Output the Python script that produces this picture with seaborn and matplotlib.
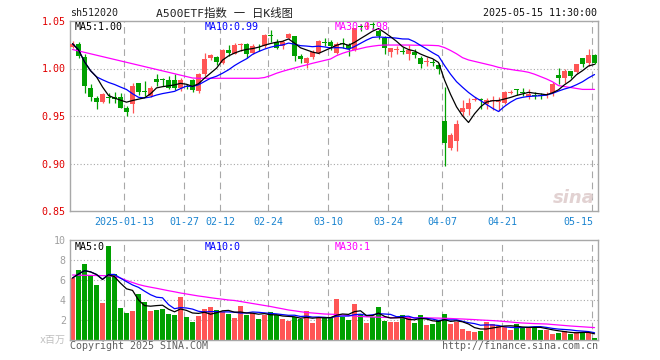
import numpy as np
import pandas as pd
import matplotlib
matplotlib.use("Agg")
import matplotlib.pyplot as plt
import seaborn as sns

# ---------------- data ----------------
opens = [1.0230, 1.0254, 1.0121, 0.9798, 0.9693, 0.9651, 0.9703, 0.9700, 0.9700, 0.9580,
         0.9630, 0.9844, 0.9758, 0.9710, 0.9893, 0.9886, 0.9880, 0.9880, 0.9790, 0.9815,
         0.9880, 0.9763, 0.9939, 1.0107, 1.0121, 1.0061, 1.0195, 1.0156, 1.0251, 1.0261,
         1.0167, 1.0237, 1.0237, 1.0346, 1.0282, 1.0237, 1.0325, 1.0342, 1.0132, 1.0061,
         1.0118, 1.0167, 1.0279, 1.0282, 1.0167, 1.0265, 1.0247, 1.0191, 1.0441, 1.0440,
         1.0462, 1.0395, 1.0318, 1.0177, 1.0198, 1.0177, 1.0149, 1.0177, 1.0114, 1.0069,
         1.0065, 1.0037, 0.9447, 0.9160, 0.9237, 0.9546, 0.9570, 0.9668, 0.9672, 0.9623,
         0.9655, 0.9648, 0.9640, 0.9742, 0.9788, 0.9742, 0.9700, 0.9714, 0.9710, 0.9725,
         0.9746, 0.9932, 0.9903, 0.9974, 0.9967, 1.0107, 1.0061, 1.0142]
highs = [1.0290, 1.0282, 1.0149, 0.9840, 0.9710, 0.9746, 0.9746, 0.9750, 0.9746, 0.9605,
         0.9850, 0.9850, 0.9868, 0.9816, 0.9946, 0.9904, 0.9920, 0.9940, 0.9900, 0.9840,
         0.9890, 0.9956, 1.0167, 1.0156, 1.0132, 1.0202, 1.0247, 1.0272, 1.0272, 1.0272,
         1.0254, 1.0254, 1.0360, 1.0402, 1.0307, 1.0296, 1.0370, 1.0342, 1.0149, 1.0121,
         1.0190, 1.0300, 1.0320, 1.0300, 1.0282, 1.0325, 1.0272, 1.0430, 1.0465, 1.0486,
         1.0490, 1.0412, 1.0342, 1.0219, 1.0237, 1.0226, 1.0247, 1.0202, 1.0132, 1.0121,
         1.0096, 1.0061, 0.9805, 0.9325, 0.9454, 0.9668, 0.9686, 0.9700, 0.9686, 0.9690,
         0.9710, 0.9700, 0.9763, 0.9770, 0.9788, 0.9798, 0.9780, 0.9756, 0.9746, 0.9756,
         0.9861, 1.0002, 0.9991, 0.9974, 1.0051, 1.0107, 1.0202, 1.0149]
lows = [1.0220, 1.0110, 0.9746, 0.9658, 0.9570, 0.9640, 0.9640, 0.9635, 0.9580, 0.9500,
        0.9535, 0.9720, 0.9710, 0.9700, 0.9816, 0.9816, 0.9780, 0.9770, 0.9760, 0.9780,
        0.9750, 0.9746, 0.9921, 1.0086, 1.0037, 1.0044, 1.0132, 1.0149, 1.0184, 1.0107,
        1.0149, 1.0184, 1.0219, 1.0282, 1.0202, 1.0202, 1.0307, 1.0079, 1.0061, 1.0002,
        1.0100, 1.0150, 1.0235, 1.0190, 1.0150, 1.0220, 1.0132, 1.0184, 1.0395, 1.0416,
        1.0420, 1.0307, 1.0150, 1.0121, 1.0156, 1.0149, 1.0086, 1.0107, 1.0002, 1.0030,
        1.0026, 0.9938, 0.8974, 0.9139, 0.9132, 0.9500, 0.9510, 0.9658, 0.9570, 0.9570,
        0.9560, 0.9553, 0.9630, 0.9728, 0.9721, 0.9710, 0.9675, 0.9675, 0.9675, 0.9686,
        0.9710, 0.9833, 0.9851, 0.9903, 0.9956, 1.0016, 1.0026, 1.0051]
closes = [1.0261, 1.0132, 0.9816, 0.9700, 0.9651, 0.9728, 0.9686, 0.9680, 0.9588, 0.9546,
          0.9816, 0.9756, 0.9751, 0.9798, 0.9858, 0.9880, 0.9800, 0.9800, 0.9880, 0.9810,
          0.9770, 0.9939, 1.0096, 1.0139, 1.0072, 1.0195, 1.0160, 1.0247, 1.0254, 1.0149,
          1.0237, 1.0233, 1.0353, 1.0342, 1.0219, 1.0282, 1.0360, 1.0132, 1.0096, 1.0107,
          1.0171, 1.0290, 1.0272, 1.0237, 1.0254, 1.0258, 1.0202, 1.0423, 1.0437, 1.0445,
          1.0456, 1.0342, 1.0219, 1.0212, 1.0202, 1.0174, 1.0191, 1.0142, 1.0051, 1.0072,
          1.0061, 0.9991, 0.9219, 0.9300, 0.9412, 0.9588, 0.9640, 0.9675, 0.9665, 0.9665,
          0.9658, 0.9651, 0.9756, 0.9746, 0.9770, 0.9739, 0.9735, 0.9710, 0.9707, 0.9728,
          0.9840, 0.9896, 0.9974, 0.9921, 1.0044, 1.0051, 1.0142, 1.0061]
ma30_price = [1.0200, 1.0185, 1.0170, 1.0155, 1.0140, 1.0125, 1.0110, 1.0095, 1.0080, 1.0065,
              1.0050, 1.0035, 1.0020, 1.0005, 0.9990, 0.9975, 0.9960, 0.9945, 0.9930, 0.9915,
              0.9900, 0.9897, 0.9897, 0.9897, 0.9897, 0.9897, 0.9897, 0.9897, 0.9897, 0.9897,
              0.9897, 0.9897, 0.9905, 0.9925, 0.9950, 0.9970, 0.9988, 1.0005, 1.0022, 1.0038,
              1.0055, 1.0070, 1.0085, 1.0100, 1.0135, 1.0160, 1.0180, 1.0195, 1.0210, 1.0225,
              1.0235, 1.0243, 1.0247, 1.0247, 1.0247, 1.0247, 1.0247, 1.0245, 1.0245, 1.0245,
              1.0243, 1.0240, 1.0220, 1.0190, 1.0155, 1.0114, 1.0090, 1.0075, 1.0060, 1.0045,
              1.0030, 1.0012, 1.0000, 0.9990, 0.9980, 0.9972, 0.9960, 0.9940, 0.9915, 0.9890,
              0.9860, 0.9820, 0.9810, 0.9800, 0.9790, 0.9780, 0.9780, 0.9780]
volumes = [6.2, 7.0, 7.6, 6.45, 5.5, 3.7, 9.4, 6.6, 3.2, 2.7,
           2.9, 4.6, 3.8, 2.9, 3.0, 3.1, 2.6, 2.5, 4.3, 2.3,
           1.8, 2.4, 3.1, 3.3, 3.0, 2.8, 2.6, 2.2, 3.4, 2.5,
           2.7, 2.1, 2.5, 2.8, 2.5, 2.1, 1.9, 2.3, 2.1, 2.9,
           1.7, 2.2, 2.2, 2.2, 4.1, 2.3, 2.0, 3.6, 2.6, 1.7,
           2.3, 3.3, 1.9, 1.8, 1.8, 2.5, 2.3, 1.7, 2.5, 1.5,
           1.6, 2.0, 2.6, 1.6, 1.8, 1.1, 0.9, 0.8, 0.9, 1.8,
           1.6, 1.4, 1.3, 1.0, 1.6, 1.2, 1.2, 1.3, 1.0, 1.0,
           0.6, 0.7, 0.9, 0.6, 0.8, 0.8, 0.7, 0.2]
ma30_volume = [6.50, 6.48, 6.47, 6.46, 6.45, 6.44, 6.42, 6.35, 6.20, 5.95,
               5.75, 5.55, 5.40, 5.28, 5.17, 5.05, 4.93, 4.82, 4.70, 4.60,
               4.50, 4.40, 4.32, 4.23, 4.15, 4.08, 4.00, 3.95, 3.85, 3.75,
               3.65, 3.55, 3.45, 3.35, 3.23, 3.12, 3.00, 2.92, 2.83, 2.75,
               2.70, 2.65, 2.60, 2.58, 2.55, 2.50, 2.45, 2.40, 2.35, 2.32,
               2.30, 2.28, 2.26, 2.24, 2.23, 2.23, 2.23, 2.23, 2.22, 2.22,
               2.20, 2.19, 2.17, 2.15, 2.12, 2.10, 2.07, 2.04, 2.00, 1.97,
               1.94, 1.90, 1.85, 1.80, 1.74, 1.70, 1.67, 1.64, 1.62, 1.60,
               1.55, 1.50, 1.45, 1.40, 1.36, 1.32, 1.28, 1.24]
date_ticks = [9, 19, 25, 33, 43, 53, 62, 72, 87]
date_labels = ["2025-01-13", "01-27", "02-12", "02-24", "03-10", "03-24", "04-07", "04-21", "05-15"]
price_ticks = [0.85, 0.90, 0.95, 1.00, 1.05]
volume_ticks = [2, 4, 6, 8, 10]

# ---------------- style ----------------
sns.set_theme(style="white")
MONO = ["DejaVu Sans Mono", "Noto Sans CJK SC"]
plt.rcParams["font.family"] = MONO

RED = "#ff5555"
GREEN = "#00a000"
GRID = "#a8a8a8"
W, H = 660, 360

df = pd.DataFrame({"o": opens, "h": highs, "l": lows, "c": closes, "v": volumes,
                   "ma30": ma30_price, "vma30": ma30_volume})
df["i"] = np.arange(len(df))
df["ma5"] = df["c"].rolling(5, min_periods=1).mean()
df["ma10"] = df["c"].rolling(10, min_periods=1).mean()
df["vma5"] = df["v"].rolling(5, min_periods=1).mean()
df["vma10"] = df["v"].rolling(10, min_periods=1).mean()
up = df["c"] >= df["o"]
colors = np.where(up, RED, GREEN)

fig = plt.figure(figsize=(6.6, 3.6), dpi=100)
fig.patch.set_facecolor("white")
ax = fig.add_axes([70 / W, 1 - 211 / H, 528 / W, 190 / H])
axv = fig.add_axes([70 / W, 1 - 340 / H, 528 / W, 100 / H])

xlim = (-0.42, len(df) - 0.42)

for a in (ax, axv):
    a.set_xlim(*xlim)
    a.set_facecolor("white")
    for s in a.spines.values():
        s.set_color(GRID)
        s.set_linewidth(1.0)
    a.tick_params(axis="both", length=0)
    a.set_xticks([])
    for t in date_ticks:
        a.axvline(t - 0.35, color=GRID, lw=0.8, dashes=(6, 4), zorder=0)

# ---------------- price panel ----------------
ax.set_ylim(0.85, 1.05)
for yv in [0.90, 0.95, 1.00]:
    ax.axhline(yv, color=GRID, lw=0.8, dashes=(1, 2), zorder=0)
ax.vlines(df["i"], df["l"], df["h"], colors=colors, lw=0.9, zorder=2)
body_bottom = np.minimum(df["o"], df["c"])
body_h = np.maximum(np.abs(df["c"] - df["o"]), 0.0009)
ax.bar(df["i"], body_h, bottom=body_bottom, width=0.75, color=colors, linewidth=0, zorder=3)

sns.lineplot(x=df["i"], y=df["ma30"], ax=ax, color="#ff00ff", lw=0.9, zorder=4)
sns.lineplot(x=df["i"], y=df["ma10"], ax=ax, color="#0000ff", lw=0.9, zorder=5)
sns.lineplot(x=df["i"], y=df["ma5"], ax=ax, color="black", lw=0.9, zorder=6)
ax.set_xlabel("")
ax.set_ylabel("")
ax.set_xticks([])
ax.set_yticks(price_ticks)
ax.set_yticklabels([f"{v:.2f}" for v in price_ticks], color="#e00000", fontsize=7.2)
ax.tick_params(axis="y", pad=3)

# watermark
ax.text(0.955, 0.07, "sina", transform=ax.transAxes, ha="center", va="center",
        fontsize=13, fontstyle="italic", fontweight="bold", color="#e2d2d2",
        family="DejaVu Sans", zorder=1)

# MA labels (price)
ax.text(75 / W, 1 - 27 / H, f"MA5:{df['ma5'].iloc[-1]:.2f}", transform=fig.transFigure,
        color="black", fontsize=7.2, va="center", ha="left", zorder=8)
ax.text(205 / W, 1 - 27 / H, f"MA10:{df['ma10'].iloc[-1]:.2f}", transform=fig.transFigure,
        color="#0000ff", fontsize=7.2, va="center", ha="left", zorder=8)
ax.text(335 / W, 1 - 27 / H, f"MA30:{df['ma30'].iloc[-1]:.2f}", transform=fig.transFigure,
        color="#ff00ff", fontsize=7.2, va="center", ha="left", zorder=8)

# date labels
xt = ax.get_xaxis_transform()
for k, (t, lab) in enumerate(zip(date_ticks, date_labels)):
    ha = "right" if k == len(date_ticks) - 1 else "center"
    xpos = t - 0.35 if ha == "center" else t - 0.2
    ax.text(xpos, -11 / 190, lab, transform=xt, ha=ha, va="center",
            color="#1a84d0", fontsize=7.2, clip_on=False)

# ---------------- volume panel ----------------
axv.set_ylim(0, 10)
for yv in [2, 4, 6, 8]:
    axv.axhline(yv, color=GRID, lw=0.8, dashes=(1, 2), zorder=0)
axv.bar(df["i"], df["v"], width=0.83, color=colors, linewidth=0, zorder=2)
sns.lineplot(x=df["i"], y=df["vma30"], ax=axv, color="#ff00ff", lw=0.9, zorder=4)
sns.lineplot(x=df["i"], y=df["vma10"], ax=axv, color="#0000ff", lw=0.9, zorder=5)
sns.lineplot(x=df["i"], y=df["vma5"], ax=axv, color="black", lw=0.9, zorder=6)
axv.set_xlabel("")
axv.set_ylabel("")
axv.set_xticks([])
axv.set_yticks(volume_ticks)
axv.set_yticklabels([str(v) for v in volume_ticks], color="#a0a0a0", fontsize=7.2)
axv.tick_params(axis="y", pad=3)

fig.text(75 / W, 1 - 247 / H, f"MA5:{int(df['vma5'].iloc[-1])}", color="black",
         fontsize=7.2, va="center", ha="left")
fig.text(205 / W, 1 - 247 / H, f"MA10:{int(df['vma10'].iloc[-1])}", color="#0000ff",
         fontsize=7.2, va="center", ha="left")
fig.text(335 / W, 1 - 247 / H, f"MA30:{int(df['vma30'].iloc[-1])}", color="#ff00ff",
         fontsize=7.2, va="center", ha="left")

# ---------------- header / footer texts ----------------
fig.text(70 / W, 1 - 13 / H, "sh512020", color="#222222", fontsize=7.2, va="center", ha="left")
fig.text(224 / W, 1 - 13 / H, "A500ETF指数 一 日K线图", color="#222222", fontsize=8.2,
         va="center", ha="center")
fig.text(597 / W, 1 - 13 / H, "2025-05-15 11:30:00", color="#111111", fontsize=7.2,
         va="center", ha="right")
fig.text(66 / W, 1 - 340 / H, "x百万", color="#c0c0c0", fontsize=7.2, va="center", ha="right")
fig.text(70 / W, 1 - 346 / H, "Copyright 2025 SINA.COM", color="#606060", fontsize=7.2,
         va="center", ha="left")
fig.text(598 / W, 1 - 346 / H, "http://finance.sina.com.cn", color="#606060", fontsize=7.2,
         va="center", ha="right")

fig.savefig("out.png", dpi=100, facecolor="white")
